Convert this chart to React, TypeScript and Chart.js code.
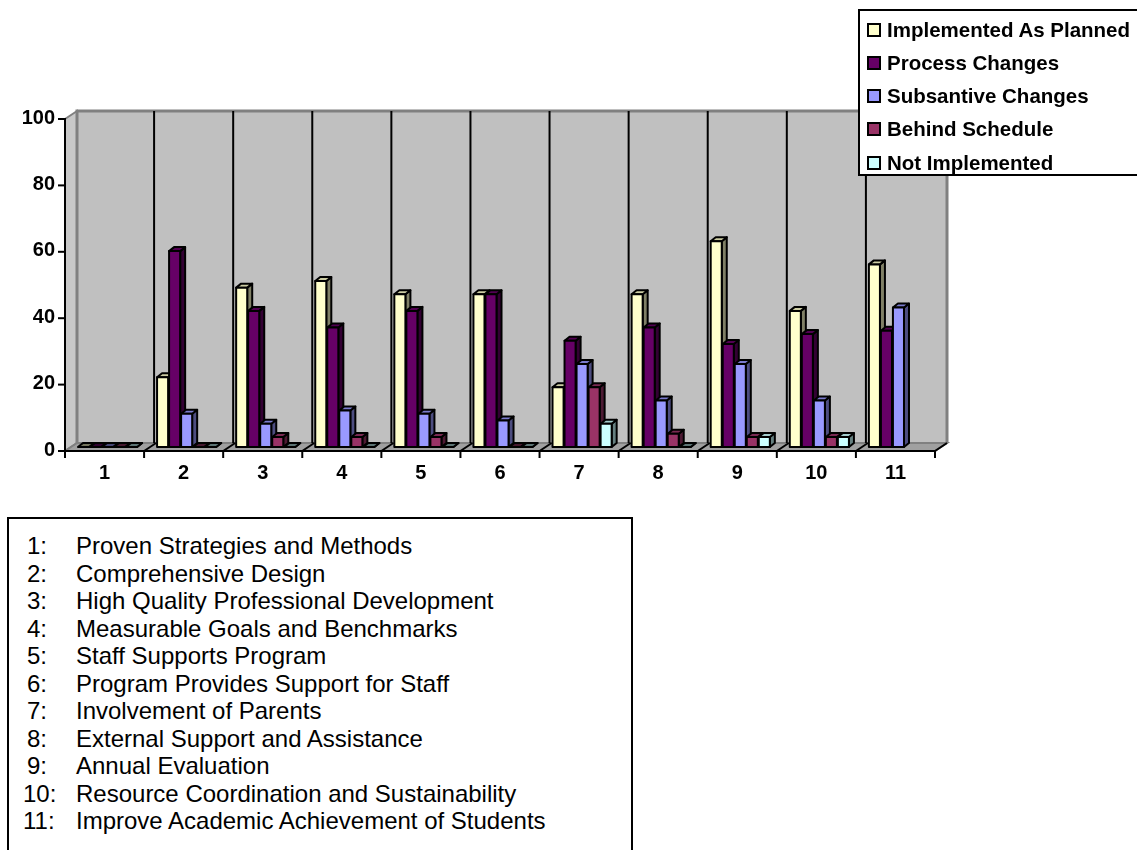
import React, { useEffect, useRef } from "react";
import { Chart, registerables } from "chart.js";

Chart.register(...registerables);

const categories = ["1", "2", "3", "4", "5", "6", "7", "8", "9", "10", "11"];
const implementedAsPlanned = [0, 21, 48, 50, 46, 46, 18, 46, 62, 41, 55];
const processChanges = [0, 59, 41, 36, 41, 46, 32, 36, 31, 34, 35];
const subsantiveChanges = [0, 10, 7, 11, 10, 8, 25, 14, 25, 14, 42];
const behindSchedule = [0, 0, 3, 3, 3, 0, 18, 4, 3, 3, null];
const notImplemented = [0, 0, 0, 0, 0, 0, 7, 0, 3, 3, null];

const seriesNames = [
  "Implemented As Planned",
  "Process Changes",
  "Subsantive Changes",
  "Behind Schedule",
  "Not Implemented",
];
const seriesColors = ["#FFFFCC", "#660066", "#9999FF", "#993366", "#CCFFFF"];
const yMin = 0;
const yMax = 100;
const yStep = 20;

const descriptionNumbers = ["1:", "2:", "3:", "4:", "5:", "6:", "7:", "8:", "9:", "10:", "11:"];
const descriptionTexts = [
  "Proven Strategies and Methods",
  "Comprehensive Design",
  "High Quality Professional Development",
  "Measurable Goals and Benchmarks",
  "Staff Supports Program",
  "Program Provides Support for Staff",
  "Involvement of Parents",
  "External Support and Assistance",
  "Annual Evaluation",
  "Resource Coordination and Sustainability",
  "Improve Academic Achievement of Students",
];

const FONT = "'Liberation Sans', Arial, Helvetica, sans-serif";

function shade(hex: string, f: number): string {
  const n = parseInt(hex.slice(1), 16);
  const r = Math.round(((n >> 16) & 255) * f);
  const g = Math.round(((n >> 8) & 255) * f);
  const b = Math.round((n & 255) * f);
  return `rgb(${r},${g},${b})`;
}

const FRONT_DX = -3;
const FRONT_DY = 4;
const WALL_DX = 12;
const WALL_DY = -8;
const BAR_DX = 5;
const BAR_DY = 4;

const framePlugin = {
  id: "frame3d",
  beforeDatasetsDraw(chart: any) {
    const { ctx, chartArea: ca, scales } = chart;
    const xs = scales.x;
    const ys = scales.y;
    const n = categories.length;
    const catW = (ca.right - ca.left) / n;
    const fl = ca.left + FRONT_DX;
    const fr = ca.right + FRONT_DX;
    const fb = ys.getPixelForValue(yMin) + FRONT_DY;
    const ft = ys.getPixelForValue(yMax) + FRONT_DY;
    const bl = fl + WALL_DX;
    const br = fr + WALL_DX;
    const bb = fb + WALL_DY;
    const bt = ft + WALL_DY;
    ctx.save();
    ctx.fillStyle = "#C0C0C0";
    ctx.fillRect(bl, bt, br - bl, bb - bt);
    ctx.beginPath();
    ctx.moveTo(fl, ft);
    ctx.lineTo(bl, bt);
    ctx.lineTo(bl, bb);
    ctx.lineTo(fl, fb);
    ctx.closePath();
    ctx.fillStyle = "#C8C8C8";
    ctx.fill();
    ctx.strokeStyle = "#808080";
    ctx.lineWidth = 2;
    ctx.stroke();
    ctx.beginPath();
    ctx.moveTo(fl, fb);
    ctx.lineTo(fr, fb);
    ctx.lineTo(br, bb);
    ctx.lineTo(bl, bb);
    ctx.closePath();
    ctx.fillStyle = "#A0A0A0";
    ctx.fill();
    ctx.strokeStyle = "#808080";
    ctx.stroke();
    ctx.strokeStyle = "#808080";
    ctx.lineWidth = 3;
    ctx.beginPath();
    ctx.moveTo(bl, bb);
    ctx.lineTo(bl, bt);
    ctx.lineTo(br, bt);
    ctx.lineTo(br, bb);
    ctx.stroke();
    ctx.strokeStyle = "#000";
    ctx.lineWidth = 2;
    for (let k = 1; k <= n; k++) {
      const fx = xs.getPixelForValue(k - 1) + catW / 2 + FRONT_DX;
      const bx = fx + WALL_DX - 2;
      if (k < n) {
        ctx.beginPath();
        ctx.moveTo(bx, bt);
        ctx.lineTo(bx, bb);
        ctx.stroke();
      }
      ctx.beginPath();
      ctx.moveTo(fx, fb);
      ctx.lineTo(fx + WALL_DX, bb);
      ctx.stroke();
    }
    ctx.lineWidth = 2;
    ctx.beginPath();
    ctx.moveTo(fl, ft - 1);
    ctx.lineTo(fl, fb);
    ctx.lineTo(fr, fb);
    ctx.stroke();
    for (let v = yMin; v <= yMax; v += yStep) {
      const y = ys.getPixelForValue(v) + FRONT_DY;
      ctx.beginPath();
      ctx.moveTo(fl - 7, y);
      ctx.lineTo(fl, y);
      ctx.stroke();
    }
    for (let k = 0; k <= n; k++) {
      const fx = ca.left + k * catW + FRONT_DX;
      ctx.beginPath();
      ctx.moveTo(fx, fb);
      ctx.lineTo(fx, fb + 7);
      ctx.stroke();
    }
    ctx.restore();
  },
  afterDatasetsDraw(chart: any) {
    const { ctx } = chart;
    const metas = chart.data.datasets.map((_: any, i: number) => chart.getDatasetMeta(i));
    ctx.save();
    ctx.lineJoin = "round";
    for (let j = 0; j < categories.length; j++) {
      for (let i = 0; i < metas.length; i++) {
        const raw = chart.data.datasets[i].data[j];
        if (raw === null || raw === undefined) continue;
        const el = metas[i].data[j];
        if (!el) continue;
        const { x, y, base, width } = el.getProps(["x", "y", "base", "width"], true);
        const xl = x - width / 2;
        const xr = x + width / 2;
        const yt = Math.min(y, base);
        const yb = Math.max(y, base);
        const col = seriesColors[i];
        const flat = yb - yt <= 0.5;
        ctx.lineWidth = 2;
        ctx.strokeStyle = "#000";
        ctx.beginPath();
        ctx.moveTo(xr, yt);
        ctx.lineTo(xr + BAR_DX, yt - BAR_DY);
        ctx.lineTo(xr + BAR_DX, yb - BAR_DY);
        ctx.lineTo(xr, yb);
        ctx.closePath();
        ctx.fillStyle = shade(col, 0.5);
        ctx.fill();
        ctx.stroke();
        ctx.beginPath();
        ctx.moveTo(xl, yt);
        ctx.lineTo(xl + BAR_DX, yt - BAR_DY);
        ctx.lineTo(xr + BAR_DX, yt - BAR_DY);
        ctx.lineTo(xr, yt);
        ctx.closePath();
        ctx.fillStyle = shade(col, flat ? 0.45 : 0.8);
        ctx.fill();
        ctx.stroke();
        if (!flat) {
          ctx.fillStyle = col;
          ctx.fillRect(xl, yt, xr - xl, yb - yt);
          ctx.strokeRect(xl, yt, xr - xl, yb - yt);
        }
      }
    }
    ctx.restore();
  },
};

export default function App() {
  const canvasRef = useRef<HTMLCanvasElement | null>(null);

  useEffect(() => {
    const canvas = canvasRef.current;
    if (!canvas) return;
    const seriesData = [
      implementedAsPlanned,
      processChanges,
      subsantiveChanges,
      behindSchedule,
      notImplemented,
    ];
    const chart = new Chart(canvas, {
      type: "bar",
      data: {
        labels: categories,
        datasets: seriesData.map((d, i) => ({
          label: seriesNames[i],
          data: d,
          backgroundColor: seriesColors[i],
          borderWidth: 0,
          categoryPercentage: 0.76,
          barPercentage: 0.92,
        })),
      },
      options: {
        responsive: false,
        animation: false,
        events: [],
        layout: { padding: { left: 0, top: 115, right: 199, bottom: 363 } },
        plugins: {
          legend: { display: false },
          tooltip: { enabled: false },
          title: { display: false },
        },
        scales: {
          x: {
            grid: { display: false, drawTicks: false },
            border: { display: false },
            ticks: {
              color: "#000",
              font: { family: FONT, size: 20, weight: "bold" },
              padding: 14,
              labelOffset: -3,
              maxRotation: 0,
              autoSkip: false,
            },
            afterFit: (s: any) => {
              s.height = 40;
            },
          },
          y: {
            min: yMin,
            max: yMax,
            grid: { display: false, drawTicks: false },
            border: { display: false },
            ticks: {
              stepSize: yStep,
              color: "#000",
              font: { family: FONT, size: 20, weight: "bold" },
              padding: 13,
              labelOffset: 3,
            },
            afterFit: (s: any) => {
              s.width = 68;
            },
          },
        },
      },
      plugins: [framePlugin],
    });
    return () => chart.destroy();
  }, []);

  return (
    <div
      style={{
        position: "absolute",
        left: 0,
        top: 0,
        width: 1137,
        height: 850,
        overflow: "hidden",
        background: "#fff",
        fontFamily: FONT,
      }}
    >
      <canvas ref={canvasRef} width={1137} height={850} style={{ display: "block" }} />
      <div
        style={{
          position: "absolute",
          left: 858,
          top: 9,
          width: 300,
          height: 167,
          boxSizing: "border-box",
          border: "2px solid #000",
          background: "#fff",
        }}
      >
        {seriesNames.map((name, i) => (
          <div
            key={name}
            style={{
              position: "absolute",
              left: 7,
              top: 18.7 + i * 33.2 - 16.5,
              height: 33,
              display: "flex",
              alignItems: "center",
              whiteSpace: "nowrap",
            }}
          >
            <span
              style={{
                display: "inline-block",
                width: 10,
                height: 10,
                border: "2px solid #000",
                background: seriesColors[i],
                marginRight: 6,
              }}
            />
            <span style={{ fontWeight: "bold", fontSize: 20.5, color: "#000" }}>{name}</span>
          </div>
        ))}
      </div>
      <div
        style={{
          position: "absolute",
          left: 7,
          top: 517,
          width: 626,
          height: 360,
          boxSizing: "border-box",
          border: "2px solid #000",
          background: "#fff",
        }}
      >
        {descriptionTexts.map((t, i) => (
          <div
            key={t}
            style={{
              position: "absolute",
              left: 0,
              top: 13 + i * 27.5,
              height: 27.5,
              lineHeight: "27.5px",
              fontSize: 24,
              color: "#000",
              whiteSpace: "nowrap",
            }}
          >
            <span style={{ position: "absolute", left: descriptionNumbers[i].length > 2 ? 14 : 18 }}>
              {descriptionNumbers[i]}
            </span>
            <span style={{ position: "absolute", left: 67 }}>{t}</span>
          </div>
        ))}
      </div>
    </div>
  );
}
